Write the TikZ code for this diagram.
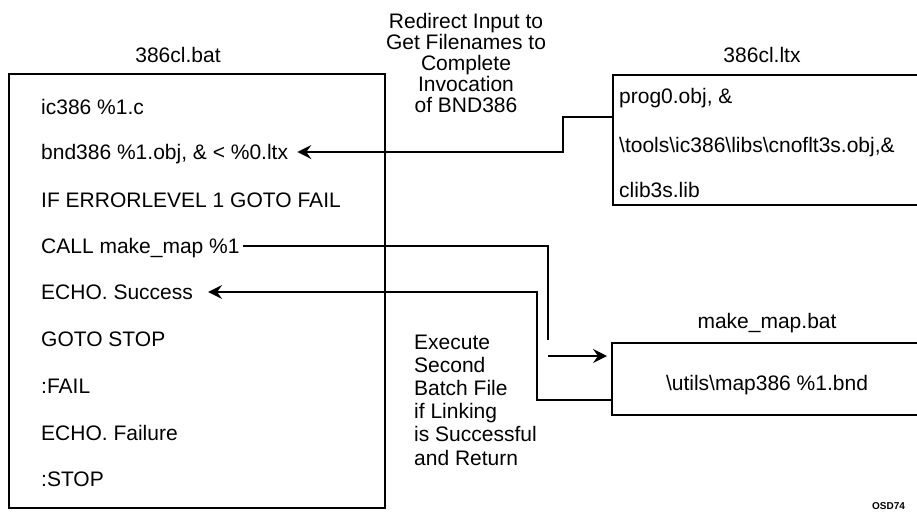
\documentclass[tikz,border=0pt]{standalone}
\usepackage{fontspec}
\setmainfont{Liberation Sans}
\usetikzlibrary{arrows.meta,calc}
\begin{document}
\begin{tikzpicture}[x=1pt,y=-1pt,
  every node/.style={font=\fontsize{21}{24}\selectfont},
  frame/.style={draw, line width=2pt, inner sep=0pt},
  codeline/.style={anchor=west, inner sep=0pt, text height=15pt, text depth=0pt},
  title/.style={inner sep=0pt, text height=15pt, text depth=0pt},
  conn/.style={line width=1.7pt},
  arr/.style={conn, -{Stealth[length=14pt,width=14pt,inset=5pt]}},
  note/.style={inner sep=0pt, font=\fontsize{21}{21}\selectfont},
]
\useasboundingbox (0,0) rectangle (917,512);

% the three batch / list files
\node[frame, minimum width=376pt, minimum height=434pt] (bat)  at (197,291) {};
\node[frame, minimum width=311pt, minimum height=130pt] (ltx)  at (768.5,140) {};
\node[frame, minimum width=312pt, minimum height=72pt]  (mmap) at (768,379) {};

% file names above the boxes
\node[title] (battitle)  at (178,55)  {386cl.bat};
\node[title] (ltxtitle)  at (762,55)  {386cl.ltx};
\node[title] (mmaptitle) at (767,321) {make\_map.bat};

% contents of 386cl.bat
\node[codeline] (l1)   at (41,107) {ic386 \%1.c};
\node[codeline] (bnd)  at (41,152) {bnd386 \%1.obj, \& < \%0.ltx};
\node[codeline] (l3)   at (41,200) {IF ERRORLEVEL 1 GOTO FAIL};
\node[codeline] (call) at (41,246) {CALL make\_map \%1};
\node[codeline] (succ) at (41,292) {ECHO. Success};
\node[codeline] (l6)   at (41,339) {GOTO STOP};
\node[codeline] (l7)   at (41,386) {:FAIL};
\node[codeline] (l8)   at (41,433) {ECHO. Failure};
\node[codeline] (l9)   at (41,479) {:STOP};

% contents of 386cl.ltx
\node[codeline] (x1) at (619,96)  {prog0.obj, \&};
\node[codeline] (x2) at (619,145) {\textbackslash tools\textbackslash ic386\textbackslash libs\textbackslash cnoflt3s.obj,\&};
\node[codeline] (x3) at (619,190) {clib3s.lib};

% contents of make_map.bat
\node[title] (m1) at (767,383) {\textbackslash utils\textbackslash map386 \%1.bnd};

% explanatory notes
\node[note, align=center] (redir) at (466,63)
  {Redirect Input to\\Get Filenames to\\Complete\\Invocation\\of BND386};
\node[note, align=left, anchor=west, font=\fontsize{21}{23.2}\selectfont] (exec) at (414,400)
  {Execute\\Second\\Batch File\\if Linking\\is Successful\\and Return};

% figure id in the corner
\node[inner sep=0pt, anchor=south west, font=\bfseries\fontsize{10}{10}\selectfont] (figid) at (872,510) {OSD74};

% connectors
\coordinate (ltxout)  at (ltx.west |- 0,117);
\coordinate (bndin)   at ([xshift=9pt]bnd.east);
\draw[arr] (ltxout) -| (563,152) -- (bndin);

\coordinate (calljog) at (548,340);
\draw[conn] ([xshift=3pt]call.east) -| (calljog);
\coordinate (callgo)  at (548,356);
\coordinate (mmapin)  at ([xshift=-4pt]mmap.west |- 0,356);
\draw[arr] (callgo) -- (mmapin);

\coordinate (mmapout) at (mmap.west |- 0,400);
\coordinate (succin)  at ([xshift=15pt]succ.east);
\draw[arr] (mmapout) -| (537,292) -- (succin);
\end{tikzpicture}
\end{document}
